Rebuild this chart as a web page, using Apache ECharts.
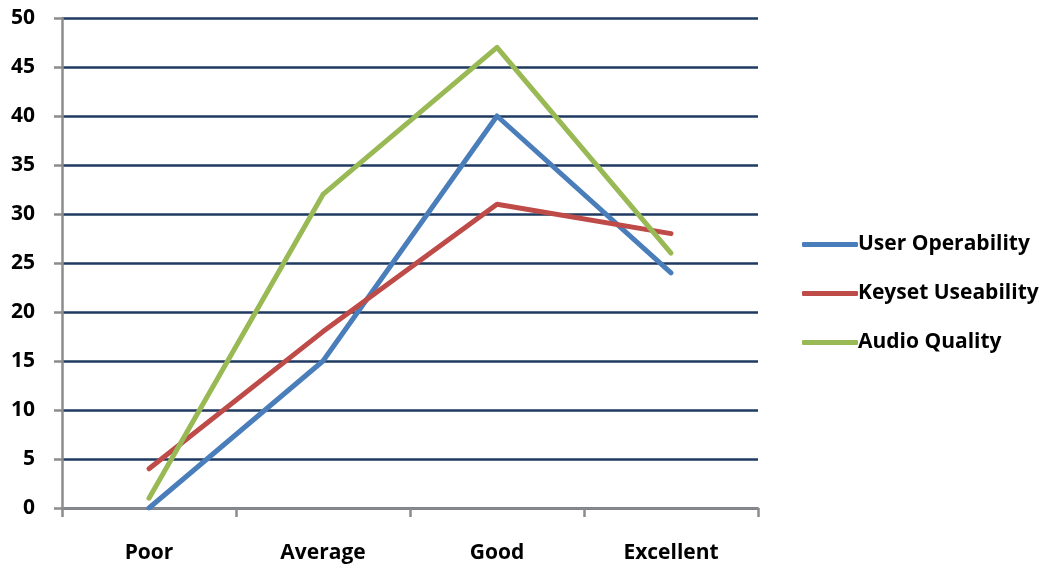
<!DOCTYPE html>
<html>
<head>
<meta charset="utf-8">
<script src="https://cdn.jsdelivr.net/npm/echarts@6/dist/echarts.min.js"></script>
<style>
  html, body { margin: 0; padding: 0; background: #fff; }
  #chart { width: 1047px; height: 567px; }
</style>
</head>
<body>
<div id="chart"></div>
<script>
// Ratings per category for each evaluated aspect
const categories = ['Poor', 'Average', 'Good', 'Excellent'];
const userOperability = [0, 15, 40, 24];
const keysetUseability = [4, 18, 31, 28];
const audioQuality = [1, 32, 47, 26];
const seriesNames = ['User Operability', 'Keyset Useability', 'Audio Quality'];
const seriesColors = ['#4A7EBB', '#BE4B48', '#98B954'];

const fontFamily = '"Open Sans", Lato, sans-serif';

const chart = echarts.init(document.getElementById('chart'), null, { renderer: 'canvas' });

const lineSeries = [userOperability, keysetUseability, audioQuality].map((data, i) => ({
  name: seriesNames[i],
  type: 'line',
  data: data,
  showSymbol: false,
  symbol: 'none',
  smooth: false,
  animation: false,
  lineStyle: { width: 5, color: seriesColors[i], cap: 'round', join: 'round' },
  itemStyle: { color: seriesColors[i] }
}));

chart.setOption({
  backgroundColor: '#ffffff',
  animation: false,
  grid: { left: 62, right: 289, top: 18, bottom: 59, containLabel: false },
  legend: {
    orient: 'vertical',
    left: 797,
    top: 229,
    itemWidth: 56,
    itemHeight: 5,
    itemGap: 28,
    icon: 'roundRect',
    textStyle: { fontFamily, fontWeight: 'bold', fontSize: 21, color: '#000', padding: [0, 0, 0, -5] },
    data: seriesNames
  },
  xAxis: {
    type: 'category',
    data: categories,
    boundaryGap: true,
    axisLine: { show: true, lineStyle: { color: '#8C8C8C', width: 2.5 } },
    axisTick: { show: true, alignWithLabel: false, length: 9, lineStyle: { color: '#8C8C8C', width: 2.5 } },
    axisLabel: { margin: 35, fontFamily, fontWeight: 'bold', fontSize: 21, color: '#000' },
    splitLine: { show: false }
  },
  yAxis: {
    type: 'value',
    min: 0,
    max: 50,
    interval: 5,
    axisLine: { show: true, lineStyle: { color: '#8C8C8C', width: 2.5 } },
    axisTick: { show: true, inside: false, length: 8, lineStyle: { color: '#8C8C8C', width: 2.5 } },
    axisLabel: { margin: 27, fontFamily, fontWeight: 'bold', fontSize: 21, color: '#000' },
    splitLine: { show: true, lineStyle: { color: '#1F3A60', width: 2.5 } }
  },
  series: lineSeries
});
</script>
</body>
</html>
